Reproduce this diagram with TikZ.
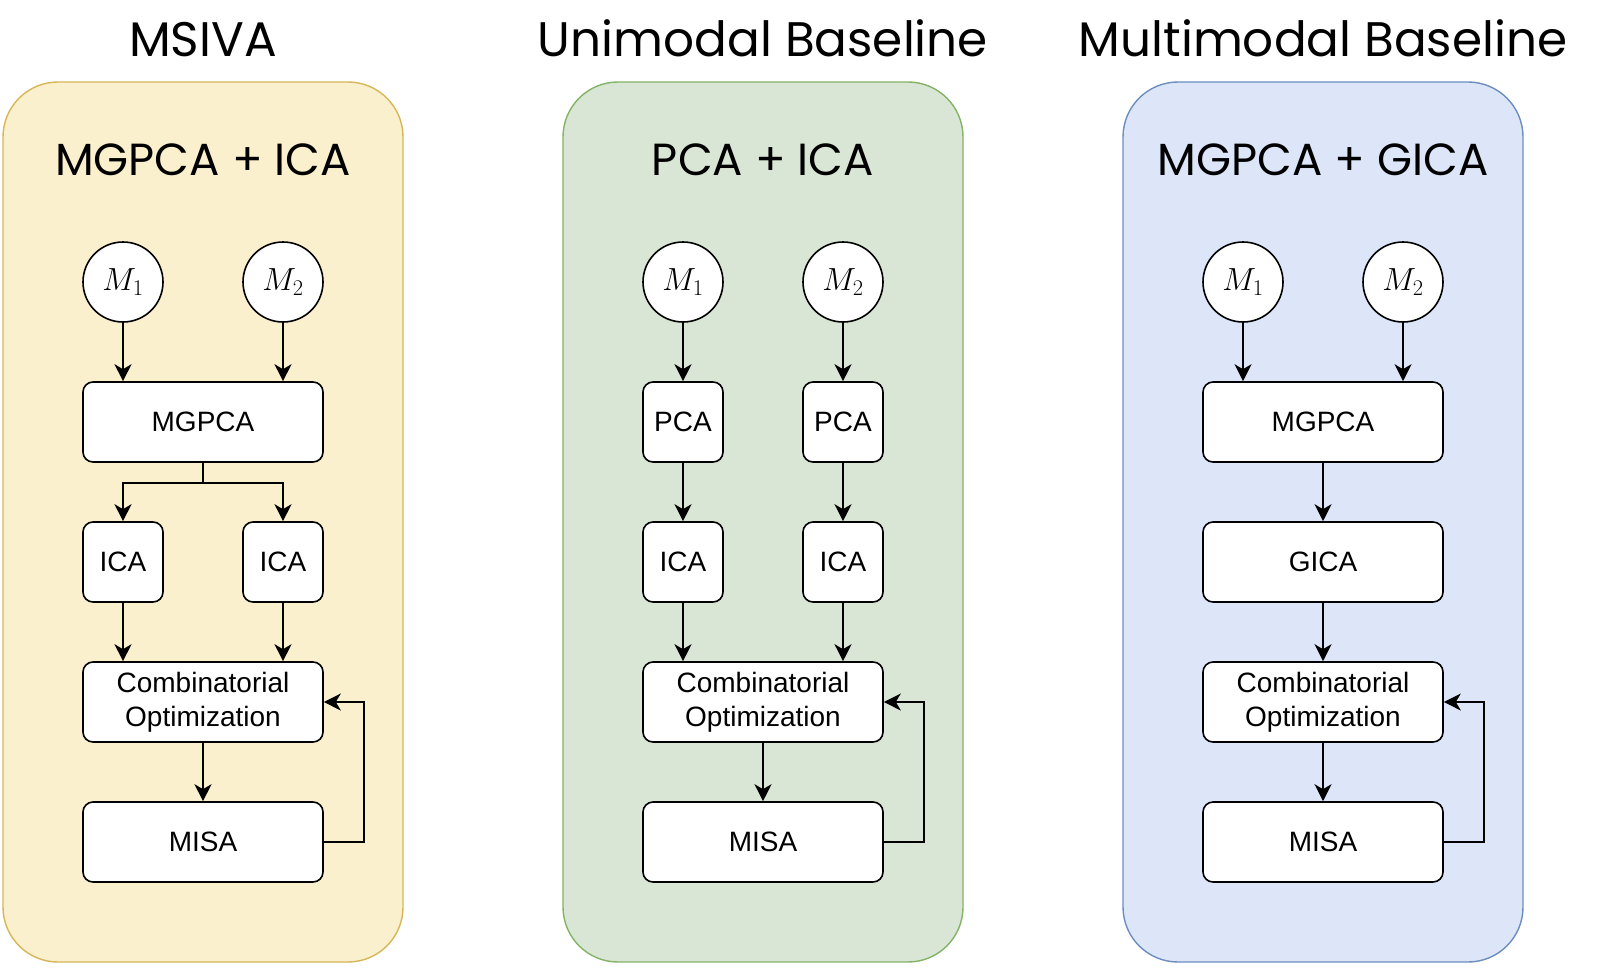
\RequirePackage{fix-cm}
\documentclass[tikz,border=0pt]{standalone}
\usepackage[no-math]{fontspec}
\setmainfont{Liberation Sans}
\newfontfamily\headfont{Poppins}
\usetikzlibrary{arrows.meta}
\definecolor{msivafill}{HTML}{FBF0CE}
\definecolor{msivadraw}{HTML}{D6B656}
\definecolor{unifill}{HTML}{DAE6D5}
\definecolor{unidraw}{HTML}{82B366}
\definecolor{multifill}{HTML}{DCE6F8}
\definecolor{multidraw}{HTML}{6C8EBF}
\begin{document}
\begin{tikzpicture}[
  x=1pt, y=1pt,
  panel/.style={draw, rounded corners=55pt, line width=1.4pt,
                minimum width=400pt, minimum height=880pt, inner sep=0pt},
  headline/.style={font=\headfont\fontsize{48.5}{52}\selectfont, anchor=base, inner sep=0pt},
  subline/.style={font=\headfont\fontsize{45}{48}\selectfont, anchor=base, inner sep=0pt},
  modnode/.style={draw, circle, fill=white, line width=1.6pt, minimum size=80pt,
                  inner sep=0pt, font=\fontsize{32}{36}\selectfont},
  stepbox/.style={draw, rounded corners=10pt, fill=white, line width=1.6pt,
                  minimum width=240pt, minimum height=80pt, inner sep=0pt, align=center,
                  font=\fontsize{28}{34}\selectfont},
  smallbox/.style={stepbox, minimum width=80pt},
  flow/.style={draw, line width=1.6pt, -{Stealth[length=17pt, width=17pt, inset=5pt]}},
]
  \useasboundingbox (0pt,0pt) rectangle (1605pt,-971pt);
  \node[panel, fill=msivafill, draw=msivadraw] (c1) at (203.000pt,-522.000pt) {};
  \node[panel, fill=unifill, draw=unidraw] (c2) at (763.000pt,-522.000pt) {};
  \node[panel, fill=multifill, draw=multidraw] (c3) at (1323.000pt,-522.000pt) {};
  \node[headline] (h1) at (203.000pt,-57.000pt) {MSIVA};
  \node[headline] (h2) at (763.000pt,-57.000pt) {Unimodal Baseline};
  \node[headline] (h3) at (1323.000pt,-57.000pt) {Multimodal Baseline};
  \node[subline] (s1) at (203.000pt,-175.000pt) {MGPCA + ICA};
  \node[subline] (s2) at (763.000pt,-175.000pt) {PCA + ICA};
  \node[subline] (s3) at (1323.000pt,-175.000pt) {MGPCA + GICA};
  \node[modnode] (m11) at (123.000pt,-282.000pt) {$M_1$};
  \node[modnode] (m12) at (283.000pt,-282.000pt) {$M_2$};
  \node[stepbox] (g1) at (203.000pt,-422.000pt) {MGPCA};
  \node[smallbox] (i11) at (123.000pt,-562.000pt) {ICA};
  \node[smallbox] (i12) at (283.000pt,-562.000pt) {ICA};
  \node[stepbox] (o1) at (203.000pt,-702.000pt) {Combinatorial\\Optimization};
  \node[stepbox] (a1) at (203.000pt,-842.000pt) {MISA};
  \draw[flow] (m11.south) -- (m11.south |- g1.north);
  \draw[flow] (m12.south) -- (m12.south |- g1.north);
  \draw[flow] (g1.south) -- ++(0pt,-20pt) -| (i11.north);
  \draw[flow] (g1.south) -- ++(0pt,-20pt) -| (i12.north);
  \draw[flow] (i11.south) -- (i11.south |- o1.north);
  \draw[flow] (i12.south) -- (i12.south |- o1.north);
  \draw[flow] (o1.south) -- (a1.north);
  \draw[flow] (a1.east) -- ++(40pt,0pt) |- (o1.east);
  \node[modnode] (m21) at (683.000pt,-282.000pt) {$M_1$};
  \node[modnode] (m22) at (843.000pt,-282.000pt) {$M_2$};
  \node[smallbox] (p21) at (683.000pt,-422.000pt) {PCA};
  \node[smallbox] (p22) at (843.000pt,-422.000pt) {PCA};
  \node[smallbox] (i21) at (683.000pt,-562.000pt) {ICA};
  \node[smallbox] (i22) at (843.000pt,-562.000pt) {ICA};
  \node[stepbox] (o2) at (763.000pt,-702.000pt) {Combinatorial\\Optimization};
  \node[stepbox] (a2) at (763.000pt,-842.000pt) {MISA};
  \draw[flow] (m21.south) -- (p21.north);
  \draw[flow] (m22.south) -- (p22.north);
  \draw[flow] (p21.south) -- (i21.north);
  \draw[flow] (p22.south) -- (i22.north);
  \draw[flow] (i21.south) -- (i21.south |- o2.north);
  \draw[flow] (i22.south) -- (i22.south |- o2.north);
  \draw[flow] (o2.south) -- (a2.north);
  \draw[flow] (a2.east) -- ++(40pt,0pt) |- (o2.east);
  \node[modnode] (m31) at (1243.000pt,-282.000pt) {$M_1$};
  \node[modnode] (m32) at (1403.000pt,-282.000pt) {$M_2$};
  \node[stepbox] (g3) at (1323.000pt,-422.000pt) {MGPCA};
  \node[stepbox] (q3) at (1323.000pt,-562.000pt) {GICA};
  \node[stepbox] (o3) at (1323.000pt,-702.000pt) {Combinatorial\\Optimization};
  \node[stepbox] (a3) at (1323.000pt,-842.000pt) {MISA};
  \draw[flow] (m31.south) -- (m31.south |- g3.north);
  \draw[flow] (m32.south) -- (m32.south |- g3.north);
  \draw[flow] (g3.south) -- (q3.north);
  \draw[flow] (q3.south) -- (o3.north);
  \draw[flow] (o3.south) -- (a3.north);
  \draw[flow] (a3.east) -- ++(40pt,0pt) |- (o3.east);
\end{tikzpicture}
\end{document}
